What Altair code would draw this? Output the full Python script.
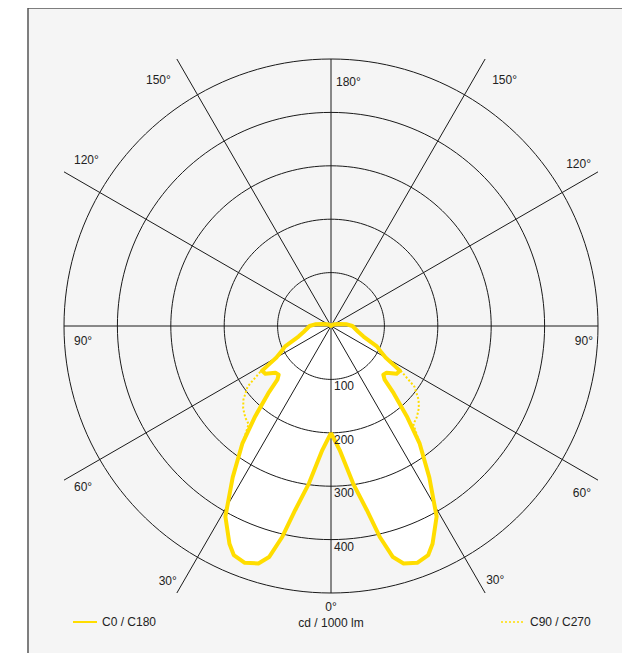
import math
import altair as alt
import pandas as pd

# ---------------- data ----------------
gamma = [0, 4, 8, 11, 13, 15, 17, 20, 23, 25, 29, 33, 37, 40, 43, 45, 47, 50, 54, 57, 58,
         60, 63, 66, 72, 78, 84, 90, 96, 102, 115, 130, 150, 180]
c0_c180 = [200, 233, 298, 351, 405, 448, 465, 472, 466, 450, 408, 338, 276, 221, 172, 142, 134, 136, 152, 154, 140,
           118, 104, 94, 64, 52, 45, 40, 30, 17, 8, 3, 1, 0]
c90_c270 = [200, 233, 298, 351, 405, 448, 465, 472, 466, 450, 408, 338, 276, 240, 235, 230, 225, 214, 193, 158, 140,
            118, 104, 94, 64, 52, 45, 40, 30, 17, 8, 3, 1, 0]
rings = [100, 200, 300, 400, 500]
ring_labels = ["100", "200", "300", "400"]
spoke_angles = [0, 30, 60, 90, 120, 150]
angle_dirs = [0, 30, 60, 90, 120, 150, 180, -150, -120, -90, -60, -30]
angle_texts = ["0°", "30°", "60°", "90°", "120°", "150°", "180°", "150°", "120°", "90°", "60°", "30°"]
series_names = ["C0 / C180", "C90 / C270"]
unit_text = "cd / 1000 lm"

# ---------------- layout ----------------
S = 0.534            # px per cd
CX, CY = 331, 326    # page position of the pole
PADL = 20
W, H = 594, 645
FONT = "Liberation Sans"
TXT = "#222222"
YEL = "#ffdd00"


def ux(px):
    return (px - CX) / S


def uy(py):
    return (CY - py) / S


xs = alt.Scale(domain=[ux(8 + PADL), ux(8 + PADL + W)], nice=False, zero=False)
ys = alt.Scale(domain=[uy(8 + H), uy(8)], nice=False, zero=False)


def X(f):
    return alt.X(f, type="quantitative", scale=xs, axis=None)


def Y(f):
    return alt.Y(f, type="quantitative", scale=ys, axis=None)


def curve_frame(vals):
    rows = []
    k = 0
    for g, v in zip(gamma, vals):
        r = math.radians(g)
        rows.append({"x": v * math.sin(r), "y": -v * math.cos(r), "o": k})
        k += 1
    for g, v in zip(reversed(gamma), reversed(vals)):
        r = math.radians(g)
        rows.append({"x": -v * math.sin(r), "y": -v * math.cos(r), "o": k})
        k += 1
    return pd.DataFrame(rows)


solid_df = curve_frame(c0_c180)
dot_df = curve_frame(c90_c270)

# rings
ring_rows = []
for rr in rings:
    for i, a in enumerate(range(0, 362, 2)):
        t = math.radians(a)
        ring_rows.append({"ring": rr, "x": rr * math.sin(t), "y": rr * math.cos(t), "o": i})
ring_df = pd.DataFrame(ring_rows)

# spokes to the bounding square of the outer ring
R = rings[-1]
sp_rows = []
for a in spoke_angles:
    t = math.radians(a)
    L = R / max(abs(math.sin(t)), abs(math.cos(t)))
    sp_rows.append({"x": L * math.sin(t), "y": -L * math.cos(t),
                    "x2": -L * math.sin(t), "y2": L * math.cos(t)})
sp_df = pd.DataFrame(sp_rows)

# angle labels: spoke end + pixel offset
offs = {0: (0, 14, "center"), 30: (1, -13, "left"), 60: (-7, 13, "right"), 90: (-5, 15, "right"),
        120: (-7, -8, "right"), 150: (7, 21, "left"), 180: (5, 23, "left"), -150: (-6, 21, "right"),
        -120: (10, -12, "left"), -90: (10, 15, "left"), -60: (10, 7, "left"), -30: (0, -12, "right")}
lab_rows = []
for d, txt in zip(angle_dirs, angle_texts):
    t = math.radians(d)
    L = R / max(abs(math.sin(t)), abs(math.cos(t)))
    ox, oy, al = offs[d]
    lab_rows.append({"x": L * math.sin(t) + ox / S, "y": -L * math.cos(t) - oy / S,
                     "label": txt, "al": al})
lab_df = pd.DataFrame(lab_rows)

ringlab_df = pd.DataFrame({"x": [0] * len(ring_labels),
                           "y": [-v for v in rings[:len(ring_labels)]],
                           "label": ring_labels})

unit_df = pd.DataFrame({"x": [0], "y": [uy(623)], "label": [unit_text]})

leg_df = pd.DataFrame({"name": series_names,
                       "x": [ux(73), ux(501)], "x2": [ux(97), ux(525)],
                       "tx": [ux(102), ux(530)], "y": [uy(622), uy(622)]})

# ---------------- layers ----------------
fill_layer = alt.Chart(solid_df).mark_line(fill="white", stroke="white", strokeWidth=1).encode(
    x=X("x"), y=Y("y"), order=alt.Order("o:Q"))

ring_layer = alt.Chart(ring_df).mark_line(color="#1a1a1a", strokeWidth=1).encode(
    x=X("x"), y=Y("y"), detail="ring:N", order=alt.Order("o:Q"))

spoke_layer = alt.Chart(sp_df).mark_rule(color="#1a1a1a", strokeWidth=1).encode(
    x=X("x"), y=Y("y"), x2="x2", y2="y2")

dot_layer = alt.Chart(dot_df).mark_line(color=YEL, strokeWidth=2, strokeDash=[2, 2]).encode(
    x=X("x"), y=Y("y"), order=alt.Order("o:Q"))

solid_layer = alt.Chart(solid_df).mark_line(color=YEL, strokeWidth=4, strokeJoin="round").encode(
    x=X("x"), y=Y("y"), order=alt.Order("o:Q"))

text_layers = []
for al in ["left", "right", "center"]:
    text_layers.append(
        alt.Chart(lab_df[lab_df["al"] == al]).mark_text(
            align=al, baseline="middle", font=FONT, fontSize=12, color=TXT).encode(
            x=X("x"), y=Y("y"), text="label:N"))

ringlab_layer = alt.Chart(ringlab_df).mark_text(
    align="left", baseline="middle", dx=3, dy=7, font=FONT, fontSize=12, color=TXT).encode(
    x=X("x"), y=Y("y"), text="label:N")

unit_layer = alt.Chart(unit_df).mark_text(
    align="center", baseline="middle", font=FONT, fontSize=12, color=TXT).encode(
    x=X("x"), y=Y("y"), text="label:N")

leg_solid = alt.Chart(leg_df[leg_df["name"] == series_names[0]]).mark_rule(
    color=YEL, strokeWidth=2).encode(x=X("x"), x2="x2", y=Y("y"))
leg_dot = alt.Chart(leg_df[leg_df["name"] == series_names[1]]).mark_rule(
    color=YEL, strokeWidth=1.5, strokeDash=[2, 2]).encode(x=X("x"), x2="x2", y=Y("y"))
leg_text = alt.Chart(leg_df).mark_text(
    align="left", baseline="middle", font=FONT, fontSize=12, color=TXT).encode(
    x=X("tx"), y=Y("y"), text="name:N")

frame_left = alt.Chart(pd.DataFrame({"k": [0]})).mark_rule(color="#555555", strokeWidth=1.5).encode(
    x=alt.value(0), y=alt.value(0), y2=alt.value(H))
frame_top = alt.Chart(pd.DataFrame({"k": [0]})).mark_rule(color="#555555", strokeWidth=1.5).encode(
    x=alt.value(0), x2=alt.value(W), y=alt.value(0))

chart = alt.layer(
    fill_layer, ring_layer, spoke_layer, dot_layer, solid_layer,
    *text_layers, ringlab_layer, unit_layer, leg_solid, leg_dot, leg_text,
    frame_left, frame_top
).properties(
    width=W, height=H,
    padding={"left": PADL, "top": 0, "right": 0, "bottom": 0},
    autosize="none",
    background="white",
).configure_view(fill="#f5f5f5", stroke="transparent")

chart.save("out.html", embed_options={"renderer": "svg", "actions": False})
